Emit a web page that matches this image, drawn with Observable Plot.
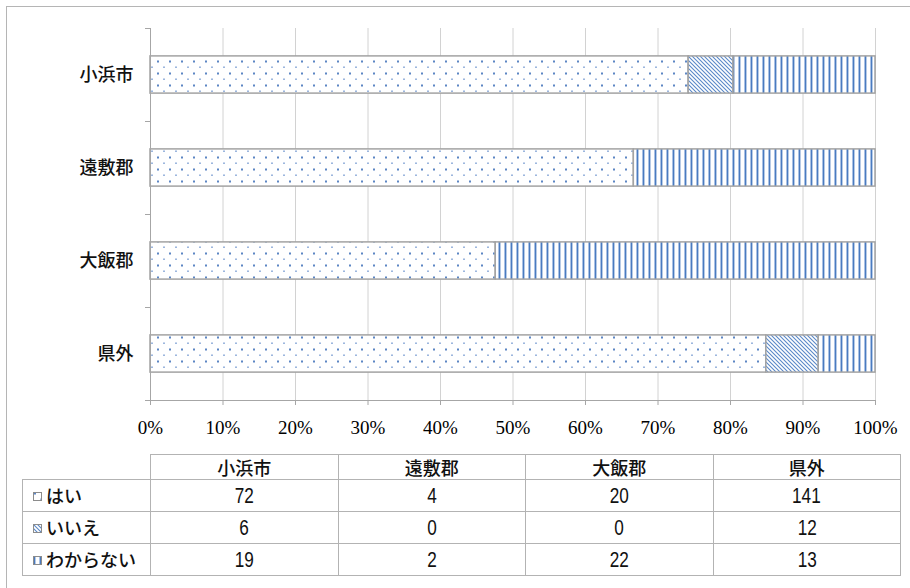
<!DOCTYPE html>
<html>
<head>
<meta charset="utf-8">
<script src="https://cdn.jsdelivr.net/npm/d3@7"></script>
<script src="https://cdn.jsdelivr.net/npm/@observablehq/plot@0.6"></script>
<style>
  html, body { margin: 0; padding: 0; background: #fff; }
  #wrap { position: relative; width: 910px; height: 588px; overflow: hidden; background: #fff; }
  #frame { position: absolute; left: 6px; top: 6px; width: 920px; height: 600px;
           border-left: 1px solid #b5b5b5; border-top: 1px solid #b5b5b5; }
  #chart { position: absolute; left: 0; top: 0; }
  #chart svg g[aria-label^="x-axis"] line, #chart svg g[aria-label^="x-axis"] path,
  #chart svg g[aria-label^="y-axis"] line, #chart svg g[aria-label^="y-axis"] path { stroke: #a6a6a6; }
  #chart svg g[aria-label^="x-axis"] text { fill: #000; font-size: 19px; }
  table { position: absolute; left: 22px; top: 454px; border-collapse: collapse; table-layout: fixed;
          font-family: "Noto Sans CJK JP", sans-serif; font-size: 18px; color: #111; }
  td, th { border: 1px solid #b3b3b3; padding: 0; font-weight: 500; text-align: center; }
  th { height: 24px; line-height: 24px; }
  td { height: 31px; line-height: 31px; }
  th.corner { border-top: none; border-left: none; border-bottom: 1px solid #b3b3b3; }
  td.lab { text-align: left; padding-left: 10px; white-space: nowrap; }
  td.num span { display: inline-block; font-family: "Liberation Sans", sans-serif; font-size: 22px;
                transform: scaleX(0.78); font-weight: 400; }
  .key { display: inline-block; vertical-align: middle; margin-right: 4px; position: relative; top: -2px; }
</style>
</head>
<body>
<svg width="0" height="0" style="position:absolute">
  <defs>
    <pattern id="pDots" patternUnits="userSpaceOnUse" x="0" y="0" width="12" height="12">
      <rect width="12" height="12" fill="#ffffff"></rect>
      <rect x="1" y="0.5" width="2" height="2" fill="#5c86c4"></rect>
      <rect x="7" y="6.5" width="2" height="1.4" fill="#93afdb"></rect>
    </pattern>
    <pattern id="pDiag" patternUnits="userSpaceOnUse" x="0" y="0" width="4" height="4">
      <rect width="4" height="4" fill="#ffffff"></rect>
      <path d="M-1,-1 L5,5 M-1,3 L1,5 M3,-1 L5,1" stroke="#5a88c8" stroke-width="1.1"></path>
    </pattern>
    <pattern id="pVert" patternUnits="userSpaceOnUse" x="0" y="0" width="6" height="6">
      <rect width="6" height="6" fill="#ffffff"></rect>
      <rect x="0" y="0" width="1" height="6" fill="#a9c1e4"></rect>
      <rect x="1" y="0" width="1.4" height="6" fill="#4a7bc0"></rect>
    </pattern>
  </defs>
</svg>
<div id="wrap">
  <div id="frame"></div>
  <div id="chart"></div>
  <table id="tbl"></table>
</div>
<script>
// ---- data ----
const regions = ["小浜市", "遠敷郡", "大飯郡", "県外"];
const answers = ["はい", "いいえ", "わからない"];
const yesValues = [72, 4, 20, 141];
const noValues = [6, 0, 0, 12];
const unknownValues = [19, 2, 22, 13];
const xTicks = [0, 0.1, 0.2, 0.3, 0.4, 0.5, 0.6, 0.7, 0.8, 0.9, 1];
const patterns = ["url(#pDots)", "url(#pDiag)", "url(#pVert)"];

// ---- build rows (normalized stack) ----
const series = [yesValues, noValues, unknownValues];
const rows = [];
regions.forEach((r, i) => {
  const total = series.reduce((s, arr) => s + arr[i], 0);
  let acc = 0;
  answers.forEach((a, j) => {
    const v = series[j][i];
    rows.push({region: r, answer: a, index: i, x1: acc / total, x2: (acc + v) / total, value: v});
    acc += v;
  });
});
const bands = regions.map((r, i) => ({region: r, index: i}));

const chart = Plot.plot({
  width: 910,
  height: 445,
  marginLeft: 150,
  marginRight: 35,
  marginTop: 28,
  marginBottom: 45,
  style: {fontFamily: "'Liberation Serif', serif", fontSize: "19px", background: "transparent", overflow: "visible"},
  x: {domain: [0, 1], ticks: xTicks, tickFormat: d => Math.round(d * 100) + "%", tickSize: 5, tickPadding: 15, label: null},
  y: {domain: [0, regions.length], reverse: true, ticks: d3.range(regions.length + 1), tickFormat: () => "", tickSize: 5, label: null},
  color: {domain: answers, range: patterns},
  marks: [
    Plot.ruleX(xTicks.filter(d => d > 0), {x: d => d, stroke: "#d2d2d2", strokeWidth: 1}),
    Plot.rect(rows.filter(d => d.value > 0), {
      x1: "x1", x2: "x2",
      y1: d => d.index + 0.3, y2: d => d.index + 0.7,
      fill: "answer", stroke: "#a3a3a3", strokeWidth: 1.5
    }),
    Plot.ruleX([0], {stroke: "#a6a6a6", strokeWidth: 1}),
    Plot.ruleY([regions.length], {stroke: "#a6a6a6", strokeWidth: 1}),
    Plot.text(bands, {
      x: 0, y: d => d.index + 0.5, text: "region", textAnchor: "end", dx: -17,
      fontFamily: "'Noto Sans CJK JP', sans-serif", fontSize: 18, fontWeight: 500, fill: "#111"
    })
  ]
});
document.getElementById("chart").appendChild(chart);

// ---- table ----
const tbl = document.getElementById("tbl");
let html = '<colgroup><col style="width:128px">' + regions.map(() => '<col style="width:187.5px">').join("") + '</colgroup>';
html += '<tr><th class="corner"></th>' + regions.map(r => `<th>${r}</th>`).join("") + '</tr>';
answers.forEach((a, j) => {
  html += `<tr><td class="lab"><svg class="key" width="9" height="9"><rect x="0.5" y="0.5" width="8" height="8" fill="${patterns[j]}" stroke="#8c8c8c" stroke-width="1"></rect></svg>${a}</td>`;
  html += series[j].map(v => `<td class="num"><span>${v}</span></td>`).join("") + '</tr>';
});
tbl.innerHTML = html;
</script>
</body>
</html>
